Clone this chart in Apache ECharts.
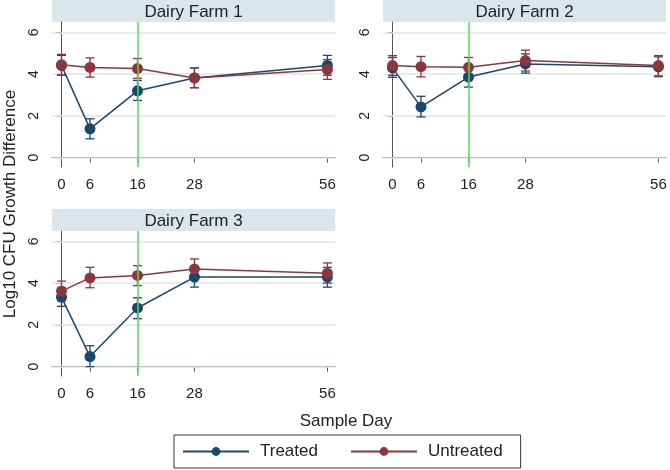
<!DOCTYPE html>
<html>
<head>
<meta charset="utf-8">
<script src="https://cdn.jsdelivr.net/npm/echarts@6/dist/echarts.min.js"></script>
<style>
  html, body { margin: 0; padding: 0; background: #fff; }
  #chart { width: 670px; height: 470px; }
</style>
</head>
<body>
<div id="chart"></div>
<script>
const days = [0, 6, 16, 28, 56];
const farmNames = ['Dairy Farm 1', 'Dairy Farm 2', 'Dairy Farm 3'];
const yTicks = [0, 2, 4, 6];
const cutoffDay = 16;

const farm1Treated = [4.42, 1.38, 3.2, 3.82, 4.42];
const farm1TreatedLow = [3.95, 0.9, 2.74, 3.35, 3.95];
const farm1TreatedHigh = [4.9, 1.86, 3.7, 4.3, 4.9];
const farm1Untreated = [4.45, 4.32, 4.27, 3.82, 4.22];
const farm1UntreatedLow = [3.96, 3.86, 3.8, 3.35, 3.75];
const farm1UntreatedHigh = [4.95, 4.78, 4.75, 4.3, 4.7];

const farm2Treated = [4.3, 2.43, 3.86, 4.49, 4.35];
const farm2TreatedLow = [3.85, 1.95, 3.38, 4.05, 3.88];
const farm2TreatedHigh = [4.8, 2.94, 4.35, 4.97, 4.83];
const farm2Untreated = [4.41, 4.36, 4.33, 4.65, 4.41];
const farm2UntreatedLow = [3.94, 3.87, 3.85, 4.15, 3.92];
const farm2UntreatedHigh = [4.89, 4.85, 4.8, 5.15, 4.89];

const farm3Treated = [3.33, 0.48, 2.81, 4.29, 4.29];
const farm3TreatedLow = [2.89, 0.0, 2.3, 3.81, 3.81];
const farm3TreatedHigh = [3.78, 1.0, 3.3, 4.76, 4.76];
const farm3Untreated = [3.62, 4.25, 4.37, 4.68, 4.48];
const farm3UntreatedLow = [3.15, 3.78, 3.88, 4.2, 4.0];
const farm3UntreatedHigh = [4.1, 4.76, 4.84, 5.16, 4.97];

const treatedColor = '#1a476f';
const untreatedColor = '#90353b';
const font = 'Liberation Sans, Arial, sans-serif';

const farms = [
  { t: farm1Treated, tl: farm1TreatedLow, th: farm1TreatedHigh, u: farm1Untreated, ul: farm1UntreatedLow, uh: farm1UntreatedHigh },
  { t: farm2Treated, tl: farm2TreatedLow, th: farm2TreatedHigh, u: farm2Untreated, ul: farm2UntreatedLow, uh: farm2UntreatedHigh },
  { t: farm3Treated, tl: farm3TreatedLow, th: farm3TreatedHigh, u: farm3Untreated, ul: farm3UntreatedLow, uh: farm3UntreatedHigh }
];

// panel boxes (plot area), strip sits just above
const panels = [
  { left: 52, top: 22, width: 283, height: 145 },
  { left: 383, top: 22, width: 283, height: 145 },
  { left: 52, top: 231, width: 283, height: 145 }
];
const stripH = 22;

const errorBars = (color) => (params, api) => {
  const x = api.value(0);
  const lo = api.coord([x, api.value(1)]);
  const hi = api.coord([x, api.value(2)]);
  const w = 4.5;
  const style = { stroke: color, lineWidth: 1.3 };
  return {
    type: 'group',
    children: [
      { type: 'line', shape: { x1: lo[0], y1: lo[1], x2: hi[0], y2: hi[1] }, style },
      { type: 'line', shape: { x1: lo[0] - w, y1: lo[1], x2: lo[0] + w, y2: lo[1] }, style },
      { type: 'line', shape: { x1: hi[0] - w, y1: hi[1], x2: hi[0] + w, y2: hi[1] }, style }
    ]
  };
};

const grid = [], xAxis = [], yAxis = [], series = [], graphic = [];

panels.forEach((p, i) => {
  grid.push({ left: p.left, top: p.top, width: p.width, height: p.height });
  xAxis.push({
    type: 'value', gridIndex: i, min: -2, max: 57.6,
    axisLine: { show: true, lineStyle: { color: '#555', width: 1 } },
    axisTick: { show: true, length: 5, customValues: days, lineStyle: { color: '#555' } },
    axisLabel: { customValues: days, margin: 10, fontSize: 15, color: '#222', fontFamily: font },
    splitLine: { show: false }
  });
  yAxis.push({
    type: 'value', gridIndex: i, min: -0.45, max: 6.5,
    axisLine: { show: true, lineStyle: { color: '#555', width: 1 } },
    axisTick: { show: true, length: 5, customValues: yTicks, lineStyle: { color: '#555' } },
    axisLabel: { customValues: yTicks, rotate: 90, margin: 11, fontSize: 14, color: '#222', fontFamily: font },
    splitLine: { show: false }
  });

  const f = farms[i];
  series.push({
    type: 'custom', xAxisIndex: i, yAxisIndex: i,
    renderItem: errorBars(treatedColor),
    data: days.map((d, k) => [d, f.tl[k], f.th[k]])
  });
  series.push({
    name: 'Treated', type: 'line', xAxisIndex: i, yAxisIndex: i,
    data: days.map((d, k) => [d, f.t[k]]),
    symbol: 'circle', symbolSize: 11,
    lineStyle: { color: treatedColor, width: 1.5 },
    itemStyle: { color: treatedColor },
    markLine: {
      silent: true, symbol: 'none', label: { show: false },
      lineStyle: { color: '#4ee04e', width: 1.5, type: 'solid' },
      data: [{ xAxis: cutoffDay }]
    }
  });
  series.push({
    type: 'custom', xAxisIndex: i, yAxisIndex: i,
    renderItem: errorBars(untreatedColor),
    data: days.map((d, k) => [d, f.ul[k], f.uh[k]])
  });
  series.push({
    name: 'Untreated', type: 'line', xAxisIndex: i, yAxisIndex: i,
    data: days.map((d, k) => [d, f.u[k]]),
    symbol: 'circle', symbolSize: 11,
    lineStyle: { color: untreatedColor, width: 1.5 },
    itemStyle: { color: untreatedColor },
    // faint horizontal grid lines at the y ticks
    markLine: {
      silent: true, symbol: 'none', label: { show: false }, z: 1,
      lineStyle: { color: '#dbe6ea', width: 1.5, type: 'solid' },
      data: yTicks.map(v => ({ yAxis: v }))
    }
  });

  graphic.push({
    type: 'rect', left: p.left, top: p.top - stripH,
    shape: { width: p.width, height: stripH },
    style: { fill: '#d9e6eb' }, silent: true
  });
  graphic.push({
    type: 'text', x: p.left + p.width / 2, y: p.top - stripH / 2 + 1,
    style: { text: farmNames[i], fill: '#222', fontSize: 17, fontFamily: font, align: 'center', verticalAlign: 'middle' },
    silent: true
  });
});

graphic.push({
  type: 'text', x: 10, y: 204, rotation: Math.PI / 2,
  style: { text: 'Log10 CFU Growth Difference', fill: '#222', fontSize: 17, fontFamily: font, align: 'center', verticalAlign: 'middle' },
  silent: true
});
graphic.push({
  type: 'text', x: 346, y: 421,
  style: { text: 'Sample Day', fill: '#222', fontSize: 17, fontFamily: font, align: 'center', verticalAlign: 'middle' },
  silent: true
});

const chart = echarts.init(document.getElementById('chart'));
chart.setOption({
  animation: false,
  backgroundColor: '#fff',
  grid, xAxis, yAxis, series, graphic,
  legend: {
    data: ['Treated', 'Untreated'],
    left: 174, top: 435,
    padding: [8, 18, 8, 8],
    borderColor: '#333', borderWidth: 1,
    itemWidth: 66, itemHeight: 11, itemGap: 32,
    textStyle: { fontSize: 17, color: '#222', fontFamily: font, padding: [0, 0, 0, 6] }
  }
});
</script>
</body>
</html>
